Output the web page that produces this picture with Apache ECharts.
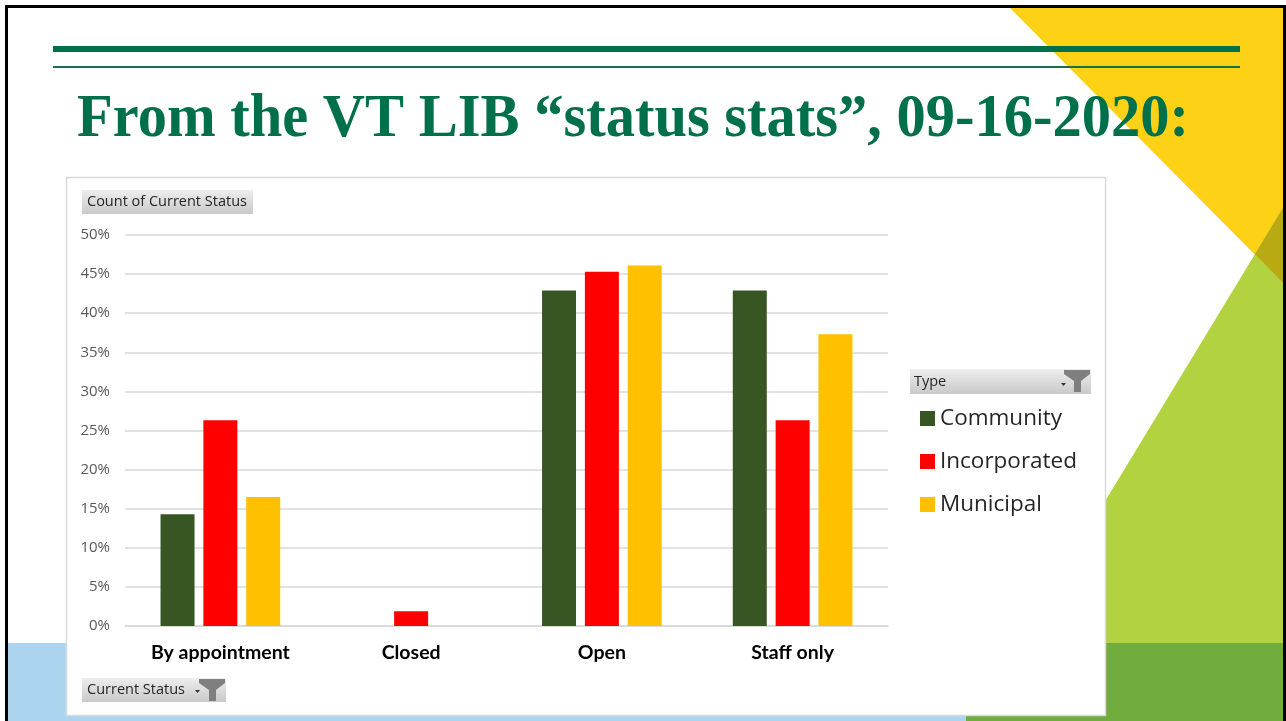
<!DOCTYPE html>
<html style="height: 100%">
<head>
    <meta charset="utf-8">
</head>
<body style="height: 100%; margin: 0">
    <div id="container" style="width: 1286px; height: 721px;"></div>
    <script type="text/javascript" src="https://cdn.jsdelivr.net/npm/echarts@6/dist/echarts.min.js"></script>
    <script type="text/javascript">
        var categories = ['By appointment', 'Closed', 'Open', 'Staff only'];
        var community = [14.3, null, 42.9, 42.9];
        var incorporated = [26.3, 1.9, 45.3, 26.3];
        var municipal = [16.5, null, 46.1, 37.3];
        var yTicks = { min: 0, max: 50, interval: 5 };

        var dom = document.getElementById("container");
        var myChart = echarts.init(dom);

        var btnFill = new echarts.graphic.LinearGradient(0, 0, 0, 1, [
            { offset: 0, color: '#eeeeee' },
            { offset: 1, color: '#c9c9c9' }
        ]);

        function funnel(x, y) {
            return {
                type: 'polygon', z: 20,
                shape: { points: [[x, y], [x + 26, y], [x + 26, y + 4], [x + 17, y + 11], [x + 17, y + 22], [x + 10, y + 22], [x + 10, y + 11], [x, y + 4]] },
                style: { fill: '#7f7f7f' }
            };
        }
        function caret(x, y) {
            return {
                type: 'polygon', z: 20,
                shape: { points: [[x, y], [x + 5, y], [x + 2.5, y + 3]] },
                style: { fill: '#333' }
            };
        }

        var option = {
            backgroundColor: '#ffffff',
            animation: false,
            textStyle: { fontFamily: 'Lato, sans-serif' },
            graphic: [
                // slide background
                { type: 'polygon', z: -5, shape: { points: [[1007, 5], [1286, 5], [1286, 286]] }, style: { fill: '#fcd116' } },
                { type: 'polygon', z: -5, shape: { points: [[1286, 203], [1019, 643], [1286, 643]] }, style: { fill: '#b3d23f' } },
                { type: 'polygon', z: -4, shape: { points: [[1255, 254], [1286, 203], [1286, 286]] }, style: { fill: '#b9a912' } },
                { type: 'rect', z: -5, shape: { x: 0, y: 643, width: 966, height: 78 }, style: { fill: '#abd5ee' } },
                { type: 'rect', z: -5, shape: { x: 966, y: 643, width: 320, height: 78 }, style: { fill: '#70ad3e' } },
                // green rules
                { type: 'rect', z: -3, shape: { x: 53, y: 46, width: 1187, height: 6 }, style: { fill: '#00704a' } },
                { type: 'rect', z: -3, shape: { x: 53, y: 66, width: 1187, height: 2 }, style: { fill: '#1f6b4c' } },
                // frame
                { type: 'rect', z: 30, shape: { x: 0, y: 0, width: 1286, height: 5 }, style: { fill: '#fff' } },
                { type: 'rect', z: 30, shape: { x: 0, y: 0, width: 5, height: 721 }, style: { fill: '#fff' } },
                { type: 'rect', z: 31, shape: { x: 6.5, y: 6.5, width: 1278, height: 730 }, style: { fill: 'none', stroke: '#000', lineWidth: 3 } },
                // title
                {
                    type: 'text', z: 10, x: 77, y: 120, scaleY: 1.05,
                    style: {
                        text: 'From the VT LIB \u201cstatus stats\u201d, 09-16-2020:',
                        font: 'bold 58.5px "Liberation Serif", "Times New Roman", serif',
                        fill: '#00704a', verticalAlign: 'middle'
                    }
                },
                // chart box
                { type: 'rect', z: -2, shape: { x: 66.5, y: 177.5, width: 1039, height: 538 }, style: { fill: '#fff', stroke: '#d9d9d9', lineWidth: 1.5 } },
                // field buttons
                { type: 'rect', z: 10, shape: { x: 82, y: 190, width: 171, height: 24 }, style: { fill: btnFill } },
                { type: 'text', z: 11, x: 87, y: 202, style: { text: 'Count of Current Status', font: '14.5px "Open Sans", sans-serif', fill: '#262626', verticalAlign: 'middle' } },
                { type: 'rect', z: 10, shape: { x: 910, y: 369, width: 181, height: 25 }, style: { fill: btnFill } },
                { type: 'text', z: 11, x: 914, y: 382, style: { text: 'Type', font: '14.5px "Open Sans", sans-serif', fill: '#262626', verticalAlign: 'middle' } },
                caret(1061, 383),
                funnel(1064, 370),
                { type: 'rect', z: 10, shape: { x: 82, y: 678, width: 144, height: 24 }, style: { fill: btnFill } },
                { type: 'text', z: 11, x: 87, y: 690, style: { text: 'Current Status', font: '14.5px "Open Sans", sans-serif', fill: '#262626', verticalAlign: 'middle' } },
                caret(195, 690),
                funnel(199, 679)
            ],
            legend: {
                orient: 'vertical',
                left: 915,
                top: 402,
                itemWidth: 15,
                itemHeight: 15,
                itemGap: 20,
                icon: 'rect',
                textStyle: { fontSize: 22.5, color: '#262626', fontFamily: '"Open Sans", sans-serif' },
                data: ['Community', 'Incorporated', 'Municipal']
            },
            grid: { left: 125, right: 398, top: 235, bottom: 95 },
            xAxis: {
                type: 'category',
                data: categories,
                axisLine: { lineStyle: { color: '#d9d9d9', width: 1.5 } },
                axisTick: { show: false },
                axisLabel: { color: '#000', fontSize: 19.5, fontWeight: 'bold', margin: 17, fontFamily: 'Lato, sans-serif' }
            },
            yAxis: {
                type: 'value',
                min: yTicks.min,
                max: yTicks.max,
                interval: yTicks.interval,
                axisLine: { show: false },
                axisTick: { show: false },
                splitLine: { lineStyle: { color: '#d9d9d9', width: 1.5 } },
                axisLabel: { color: '#595959', fontSize: 15, margin: 15, formatter: '{value}%', fontFamily: '"Open Sans", sans-serif' }
            },
            series: [
                { name: 'Community', type: 'bar', data: community, barWidth: 34, barGap: '26%', itemStyle: { color: '#375623' } },
                { name: 'Incorporated', type: 'bar', data: incorporated, barWidth: 34, barGap: '26%', itemStyle: { color: '#ff0000' } },
                { name: 'Municipal', type: 'bar', data: municipal, barWidth: 34, barGap: '26%', itemStyle: { color: '#ffc000' } }
            ]
        };

        if (option && typeof option === "object") {
            myChart.setOption(option, true);
        }
    </script>
</body>
</html>
